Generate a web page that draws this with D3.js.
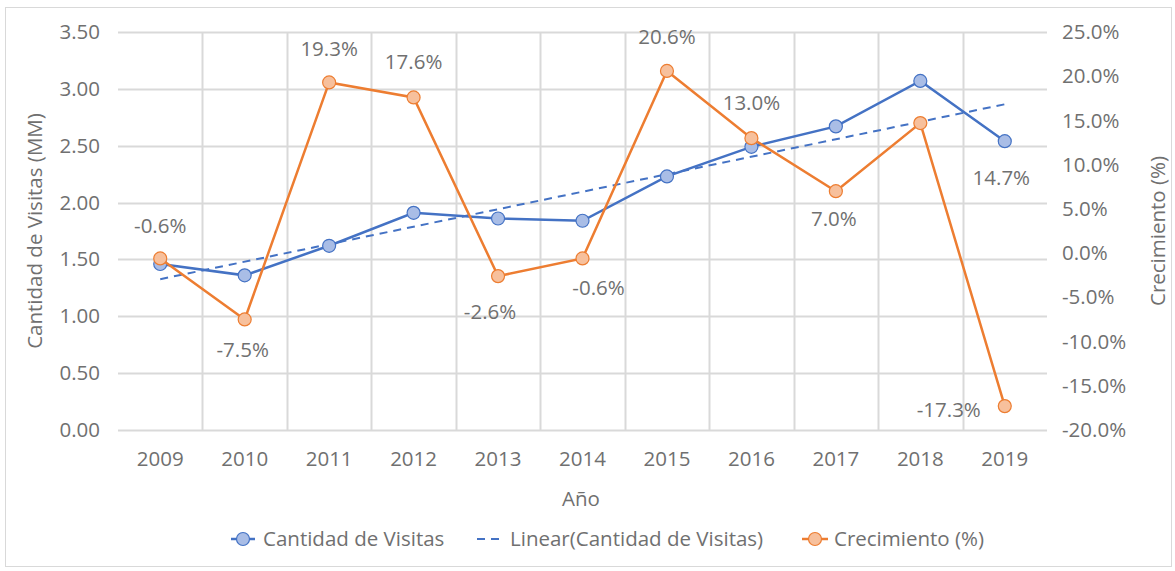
<!DOCTYPE html>
<html>
<head>
<meta charset="utf-8">
<script src="https://cdn.jsdelivr.net/npm/d3@7"></script>
<style>
  body { margin: 0; background: #fff; }
  svg text { font-family: "Open Sans", sans-serif; fill: #707070; }
</style>
</head>
<body>
<div class="chart"></div>
<script>
const years = ["2009", "2010", "2011", "2012", "2013", "2014", "2015", "2016", "2017", "2018", "2019"];
const visitas = [1.46, 1.36, 1.62, 1.91, 1.86, 1.84, 2.23, 2.49, 2.67, 3.07, 2.54];
const crecimiento = [-0.6, -7.5, 19.3, 17.6, -2.6, -0.6, 20.6, 13.0, 7.0, 14.7, -17.3];
const leftTicks = [0, 0.5, 1, 1.5, 2, 2.5, 3, 3.5];
const rightTicks = [-20, -15, -10, -5, 0, 5, 10, 15, 20, 25];
// where each growth label sits relative to its point (dx, dy)
const labelOffsets = [[0, -33], [-2, 30], [0, -34], [0, -36], [-8, 36], [16, 29], [0, -34], [0, -35], [-2, 28], [81, 55], [-56, 4]];

const width = 1175, height = 571;
const margin = {top: 32, right: 128, bottom: 141, left: 118};
const blue = "#4472C4", orange = "#ED7D31";
const fs = 20.5;

const svg = d3.select(".chart").append("svg")
  .attr("width", width)
  .attr("height", height);

// chart border
svg.append("rect")
  .attr("x", 5.5).attr("y", 7.5)
  .attr("width", 1166).attr("height", 559)
  .attr("fill", "none")
  .attr("stroke", "#d9d9d9");

const x = d3.scaleBand()
  .domain(years)
  .range([margin.left, width - margin.right]);

const y = d3.scaleLinear()
  .domain([0, 3.5])
  .range([height - margin.bottom, margin.top]);

const y2 = d3.scaleLinear()
  .domain([-20, 25])
  .range([height - margin.bottom, margin.top]);

// horizontal grid
svg.append("g")
  .selectAll("line")
  .data(leftTicks)
  .join("line")
  .attr("x1", margin.left)
  .attr("x2", width - margin.right)
  .attr("y1", d => Math.round(y(d)) + 0.5)
  .attr("y2", d => Math.round(y(d)) + 0.5)
  .attr("stroke", "#d9d9d9")
  .attr("stroke-width", 2);

// vertical grid between categories
svg.append("g")
  .selectAll("line")
  .data(years.slice(1))
  .join("line")
  .attr("x1", d => Math.round(x(d)) + 0.5)
  .attr("x2", d => Math.round(x(d)) + 0.5)
  .attr("y1", y(3.5))
  .attr("y2", y(0))
  .attr("stroke", "#d9d9d9")
  .attr("stroke-width", 2);

// axes (text only)
const leftAxis = svg.append("g")
  .attr("transform", `translate(${margin.left - 15},0)`)
  .call(d3.axisLeft(y).tickValues(leftTicks).tickFormat(d3.format(".2f")).tickSize(0));

const rightAxis = svg.append("g")
  .attr("transform", `translate(${width - margin.right + 12},0)`)
  .call(d3.axisRight(y2).tickValues(rightTicks).tickFormat(d => d.toFixed(1) + "%").tickSize(0));

const bottomAxis = svg.append("g")
  .attr("transform", `translate(0,${height - margin.bottom + 20})`)
  .call(d3.axisBottom(x).tickSize(0));

[leftAxis, rightAxis, bottomAxis].forEach(a => {
  a.select(".domain").remove();
  a.selectAll("text")
    .attr("font-size", fs)
    .attr("font-family", "'Open Sans', sans-serif")
    .attr("fill", "#707070");
});
bottomAxis.selectAll("text").attr("dy", "0.65em");

// axis titles
svg.append("text")
  .attr("transform", "translate(42,231) rotate(-90)")
  .attr("text-anchor", "middle")
  .attr("font-size", fs)
  .text("Cantidad de Visitas (MM)");

svg.append("text")
  .attr("transform", "translate(1165,231) rotate(-90)")
  .attr("text-anchor", "middle")
  .attr("font-size", fs)
  .text("Crecimiento (%)");

svg.append("text")
  .attr("x", 581)
  .attr("y", 506)
  .attr("text-anchor", "middle")
  .attr("font-size", fs)
  .text("Año");

const cx = d => x(d) + x.bandwidth() / 2;

// trend line (least squares over visitas)
const xi = d3.range(years.length);
const mx = d3.mean(xi), my = d3.mean(visitas);
const slope = d3.sum(xi, i => (i - mx) * (visitas[i] - my)) / d3.sum(xi, i => (i - mx) ** 2);
const icpt = my - slope * mx;

svg.append("line")
  .attr("x1", cx(years[0]))
  .attr("y1", y(icpt))
  .attr("x2", cx(years[years.length - 1]))
  .attr("y2", y(icpt + slope * (years.length - 1)))
  .attr("stroke", blue)
  .attr("stroke-width", 2)
  .attr("stroke-dasharray", "8,6");

// visitas line
const visitasData = years.map((yr, i) => ({yr, v: visitas[i]}));
svg.append("path")
  .datum(visitasData)
  .attr("fill", "none")
  .attr("stroke", blue)
  .attr("stroke-width", 2.5)
  .attr("d", d3.line().x(d => cx(d.yr)).y(d => y(d.v)));

svg.append("g")
  .selectAll("circle")
  .data(visitasData)
  .join("circle")
  .attr("cx", d => cx(d.yr))
  .attr("cy", d => y(d.v))
  .attr("r", 6.5)
  .attr("fill", "#A9BDE6")
  .attr("stroke", blue)
  .attr("stroke-width", 1.2);

// crecimiento line
const crecData = years.map((yr, i) => ({yr, v: crecimiento[i], off: labelOffsets[i]}));
svg.append("path")
  .datum(crecData)
  .attr("fill", "none")
  .attr("stroke", orange)
  .attr("stroke-width", 2.5)
  .attr("d", d3.line().x(d => cx(d.yr)).y(d => y2(d.v)));

svg.append("g")
  .selectAll("circle")
  .data(crecData)
  .join("circle")
  .attr("cx", d => cx(d.yr))
  .attr("cy", d => y2(d.v))
  .attr("r", 6.5)
  .attr("fill", "#F7C09C")
  .attr("stroke", orange)
  .attr("stroke-width", 1.2);

svg.append("g")
  .selectAll("text")
  .data(crecData)
  .join("text")
  .attr("x", d => cx(d.yr) + d.off[0])
  .attr("y", d => y2(d.v) + d.off[1])
  .attr("dy", "0.35em")
  .attr("text-anchor", "middle")
  .attr("font-size", fs)
  .text(d => d.v.toFixed(1) + "%");

// legend
const legend = svg.append("g").attr("transform", "translate(0,539)");

legend.append("line")
  .attr("x1", 231).attr("x2", 255)
  .attr("stroke", blue).attr("stroke-width", 2.5);
legend.append("circle")
  .attr("cx", 243).attr("r", 6.5)
  .attr("fill", "#A9BDE6").attr("stroke", blue).attr("stroke-width", 1.2);
legend.append("text")
  .attr("x", 263).attr("dy", "0.35em").attr("font-size", fs)
  .text("Cantidad de Visitas");

legend.append("line")
  .attr("x1", 477).attr("x2", 501)
  .attr("stroke", blue).attr("stroke-width", 2)
  .attr("stroke-dasharray", "8,6");
legend.append("text")
  .attr("x", 510).attr("dy", "0.35em").attr("font-size", fs)
  .text("Linear(Cantidad de Visitas)");

legend.append("line")
  .attr("x1", 802).attr("x2", 828)
  .attr("stroke", orange).attr("stroke-width", 2.5);
legend.append("circle")
  .attr("cx", 815).attr("r", 6.5)
  .attr("fill", "#F7C09C").attr("stroke", orange).attr("stroke-width", 1.2);
legend.append("text")
  .attr("x", 834).attr("dy", "0.35em").attr("font-size", fs)
  .text("Crecimiento (%)");
</script>
</body>
</html>
